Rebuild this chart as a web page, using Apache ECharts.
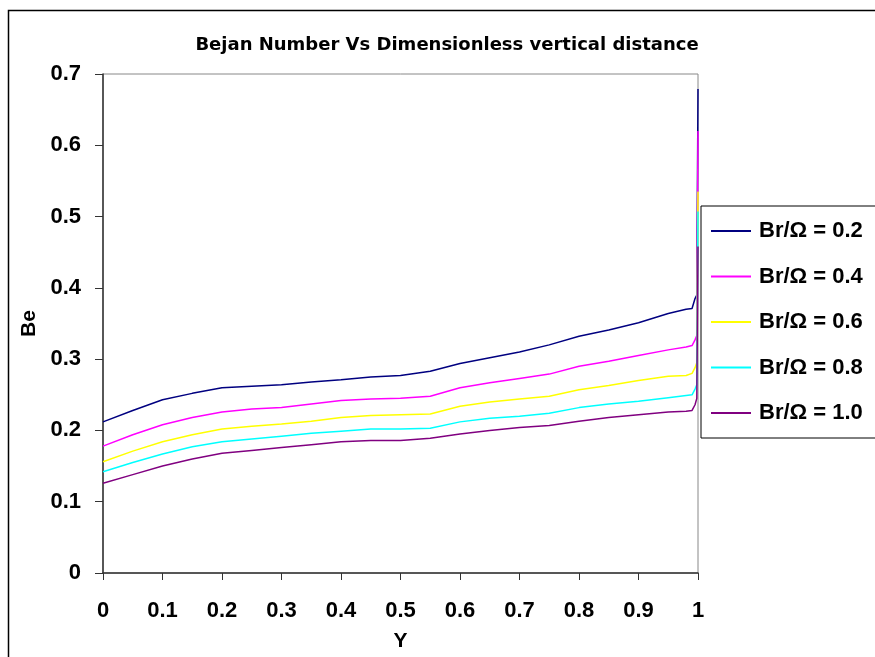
<!DOCTYPE html>
<html>
<head>
<meta charset="utf-8">
<title>Bejan Number Vs Dimensionless vertical distance</title>
<script src="https://cdn.jsdelivr.net/npm/echarts@6/dist/echarts.min.js"></script>
<style>
    html, body { margin: 0; padding: 0; background: #fff; }
    #chart { width: 875px; height: 657px; }
</style>
</head>
<body>
<div id="chart"></div>
<script>
// Dimensionless vertical distance (shared by every curve)
const yPos = [0, 0.05, 0.1, 0.15, 0.2, 0.25, 0.3, 0.35, 0.4, 0.45, 0.5, 0.55, 0.6,
    0.65, 0.7, 0.75, 0.8, 0.85, 0.9, 0.95, 0.98, 0.99, 0.995, 0.998, 1.0];

// Bejan number, one array per Br/Omega
const be02 = [0.212, 0.228, 0.243, 0.252, 0.260, 0.262, 0.264, 0.268, 0.271, 0.275, 0.277, 0.283, 0.294,
    0.302, 0.310, 0.320, 0.332, 0.341, 0.351, 0.364, 0.370, 0.371, 0.385, 0.390, 0.679];
const be04 = [0.178, 0.194, 0.208, 0.218, 0.226, 0.230, 0.232, 0.237, 0.242, 0.244, 0.245, 0.248, 0.260,
    0.267, 0.273, 0.279, 0.290, 0.297, 0.305, 0.313, 0.317, 0.319, 0.327, 0.333, 0.620];
const be06 = [0.156, 0.171, 0.184, 0.194, 0.202, 0.206, 0.209, 0.213, 0.218, 0.221, 0.222, 0.223, 0.234,
    0.240, 0.244, 0.248, 0.257, 0.263, 0.270, 0.276, 0.277, 0.280, 0.288, 0.295, 0.535];
const be08 = [0.142, 0.155, 0.167, 0.177, 0.184, 0.188, 0.192, 0.196, 0.199, 0.202, 0.202, 0.203, 0.212,
    0.217, 0.220, 0.224, 0.232, 0.237, 0.241, 0.246, 0.249, 0.250, 0.258, 0.264, 0.507];
const be10 = [0.126, 0.138, 0.150, 0.160, 0.168, 0.172, 0.176, 0.180, 0.184, 0.186, 0.186, 0.189, 0.195,
    0.200, 0.204, 0.207, 0.213, 0.218, 0.222, 0.226, 0.227, 0.228, 0.236, 0.245, 0.458];

const seriesNames = ['Br/Ω = 0.2', 'Br/Ω = 0.4', 'Br/Ω = 0.6', 'Br/Ω = 0.8', 'Br/Ω = 1.0'];
const seriesValues = [be02, be04, be06, be08, be10];
const seriesColors = ['#000080', '#ff00ff', '#ffff00', '#00ffff', '#800080'];

const fontFamily = '"Liberation Sans", Arial, sans-serif';
const wideFont = '"DejaVu Sans", "Liberation Sans", sans-serif';

let myChart = echarts.init(document.getElementById('chart'));

let series = [];
for (let i = 0; i < seriesNames.length; i++) {
    series.push({
        name: seriesNames[i],
        type: 'line',
        symbol: 'none',
        smooth: false,
        lineStyle: { color: seriesColors[i], width: 1.5 },
        itemStyle: { color: seriesColors[i] },
        data: yPos.map((y, j) => [y, seriesValues[i][j]])
    });
}

const axisLabel = {
    color: '#000',
    fontSize: 22,
    fontWeight: 'bold',
    fontFamily: fontFamily
};

let option = {
    backgroundColor: '#fff',
    animation: false,
    title: {
        text: 'Bejan Number Vs Dimensionless vertical distance',
        left: 442,
        textAlign: 'center',
        top: 31,
        textStyle: { color: '#000', fontSize: 18, fontWeight: 'bold', fontFamily: wideFont }
    },
    // outer chart frame, runs off the right and bottom edges
    graphic: [{
        type: 'rect',
        shape: { x: 8.5, y: 10.5, width: 900, height: 700 },
        style: { fill: 'none', stroke: '#000', lineWidth: 1.5 },
        silent: true
    }],
    legend: {
        data: seriesNames,
        orient: 'vertical',
        left: 701,
        top: 206,
        padding: [14, 60, 14, 10],
        icon: 'rect',
        itemWidth: 40,
        itemHeight: 2,
        itemGap: 23.5,
        borderColor: '#000',
        borderWidth: 1,
        backgroundColor: '#fff',
        textStyle: {
            color: '#000', fontSize: 22, fontWeight: 'bold', fontFamily: fontFamily,
            lineHeight: 20, padding: [0, 0, 0, 3]
        }
    },
    grid: {
        left: 103,
        top: 74,
        right: 177,
        bottom: 84,
        show: true,
        borderColor: '#888',
        borderWidth: 1,
        containLabel: false
    },
    xAxis: {
        type: 'value',
        min: 0,
        max: 1,
        interval: 0.1,
        name: 'Y',
        nameLocation: 'middle',
        nameGap: 58,
        nameTextStyle: { color: '#000', fontSize: 21, fontWeight: 'bold', fontFamily: fontFamily },
        axisLine: { show: true, lineStyle: { color: '#333', width: 1.5 } },
        axisTick: { show: true, inside: false, length: 7, lineStyle: { color: '#333', width: 1 } },
        axisLabel: Object.assign({ margin: 27 }, axisLabel),
        splitLine: { show: false }
    },
    yAxis: {
        type: 'value',
        min: 0,
        max: 0.7,
        interval: 0.1,
        name: 'Be',
        nameLocation: 'middle',
        nameGap: 56,
        nameRotate: 90,
        nameTextStyle: { color: '#000', fontSize: 21, fontWeight: 'bold', fontFamily: fontFamily },
        axisLine: { show: true, lineStyle: { color: '#333', width: 1.5 } },
        axisTick: { show: true, inside: false, length: 8, lineStyle: { color: '#333', width: 1 } },
        axisLabel: Object.assign({ margin: 22 }, axisLabel),
        splitLine: { show: false }
    },
    series: series
};

if (option && typeof option === "object") {
    myChart.setOption(option, true);
}
</script>
</body>
</html>
